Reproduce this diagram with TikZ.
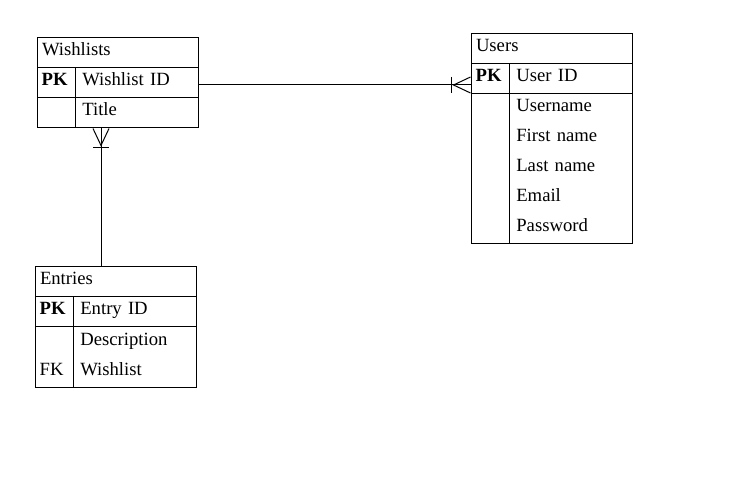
\documentclass[tikz,border=0pt]{standalone}
\usepackage{fontspec}
\setmainfont{Liberation Serif}
\usetikzlibrary{positioning, arrows.meta}

\begin{document}
\begin{tikzpicture}[x=0.75pt, y=-0.75pt, line width=0.75pt,
  every node/.style={font=\fontsize{14}{16}\selectfont, outer sep=0pt, inner ysep=0pt,
    text height=10pt, text depth=5.5pt, minimum height=22.5pt},
  entity/.style={draw, anchor=north west, inner xsep=3.75pt, text width=113.25pt, align=left},
  keycell/.style={inner xsep=3.5pt, text width=21.5pt, align=left},
  attrcell/.style={inner xsep=5.5pt, text width=81.25pt, align=left},
  onemany/.style={postaction={draw, -{Bar[width=12pt] Straight Barb[reversed, length=12.75pt, width=12pt]}}}]

\useasboundingbox (0,0) rectangle (731,491);

% Wishlists
\node[entity] (wl) at (37,38) {Wishlists};
\node[keycell, anchor=north west] (wlpk) at (wl.south west) {\textbf{PK}};
\node[attrcell, right=0pt of wlpk] (wlid) {Wishlist ID};
\node[attrcell, below=0pt of wlid] (wltitle) {Title};
\draw (wlpk.north west) rectangle (wltitle.south east);
\draw (wlpk.south west) -- (wlid.south east);
\draw (wlpk.north east) -- (wlpk.north east |- wltitle.south);

% Users
\node[entity] (us) at (471,34) {Users};
\node[keycell, anchor=north west] (upk) at (us.south west) {\textbf{PK}};
\node[attrcell, right=0pt of upk] (uid) {User ID};
\node[attrcell, below=0pt of uid] (uname) {Username};
\node[attrcell, below=0pt of uname] (ufirst) {First name};
\node[attrcell, below=0pt of ufirst] (ulast) {Last name};
\node[attrcell, below=0pt of ulast] (umail) {Email};
\node[attrcell, below=0pt of umail] (upass) {Password};
\draw (upk.north west) rectangle (upass.south east);
\draw (upk.south west) -- (uid.south east);
\draw (upk.north east) -- (upk.north east |- upass.south);

% Entries
\node[entity] (en) at (35,267) {Entries};
\node[keycell, anchor=north west] (epk) at (en.south west) {\textbf{PK}};
\node[attrcell, right=0pt of epk] (eid) {Entry ID};
\node[attrcell, below=0pt of eid] (edesc) {Description};
\node[attrcell, below=0pt of edesc] (ewl) {Wishlist};
\node[keycell, left=0pt of ewl] (efk) {FK};
\draw (epk.north west) rectangle (ewl.south east);
\draw (epk.south west) -- (eid.south east);
\draw (epk.north east) -- (epk.north east |- ewl.south);

% Relations
\coordinate (wlout) at ([yshift=-1.5pt]wlid.east);
\draw[onemany] (wlout) -- (wlout -| upk.west);
\coordinate (enin) at ([xshift=49.5pt]en.north west);
\draw[onemany] (enin) -- (enin |- wltitle.south);

\end{tikzpicture}
\end{document}
